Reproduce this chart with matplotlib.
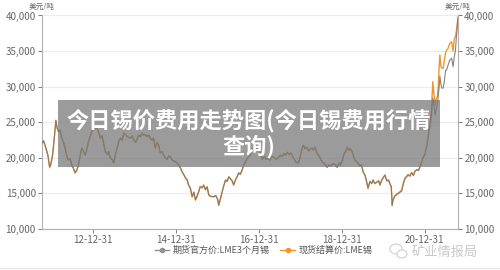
import matplotlib
matplotlib.use("Agg")
import matplotlib.pyplot as plt
import matplotlib.dates as mdates
from matplotlib.patches import Rectangle, Ellipse
from matplotlib.lines import Line2D
import pandas as pd

plt.rcParams['font.family'] = ['Noto Sans CJK SC', 'DejaVu Sans']

# ---- data (USD / tonne) ----
dates = [
    "2011-10-14", "2011-10-28", "2011-11-10", "2011-11-24", "2011-12-05", "2011-12-20", "2011-12-30",
    "2012-01-15", "2012-01-30", "2012-02-13", "2012-02-24", "2012-03-07", "2012-03-20", "2012-04-05",
    "2012-04-20", "2012-05-04", "2012-05-18", "2012-06-02", "2012-06-18", "2012-07-01", "2012-07-15",
    "2012-07-31", "2012-08-15", "2012-08-29", "2012-09-12", "2012-09-27", "2012-10-12", "2012-10-27",
    "2012-11-10", "2012-11-25", "2012-12-15", "2013-01-09", "2013-01-25", "2013-02-07", "2013-02-22",
    "2013-03-10", "2013-03-25", "2013-04-10", "2013-04-22", "2013-05-10", "2013-05-22", "2013-06-05",
    "2013-06-20", "2013-07-06", "2013-07-20", "2013-08-05", "2013-08-20", "2013-09-03", "2013-09-18",
    "2013-10-02", "2013-10-16", "2013-11-01", "2013-11-15", "2013-11-30", "2013-12-15", "2013-12-29",
    "2014-01-15", "2014-02-10", "2014-02-25", "2014-03-11", "2014-03-25", "2014-04-10", "2014-04-24",
    "2014-05-10", "2014-05-22", "2014-06-07", "2014-06-20", "2014-07-06", "2014-07-20", "2014-08-05",
    "2014-08-19", "2014-09-05", "2014-09-20", "2014-10-02", "2014-10-18", "2014-11-01", "2014-11-15",
    "2014-12-01", "2014-12-15", "2014-12-30", "2015-01-15", "2015-01-28", "2015-02-12", "2015-02-27",
    "2015-03-15", "2015-03-28", "2015-04-12", "2015-04-25", "2015-05-10", "2015-05-26", "2015-06-10",
    "2015-06-24", "2015-07-08", "2015-07-23", "2015-08-05", "2015-08-22", "2015-09-05", "2015-09-20",
    "2015-10-05", "2015-10-19", "2015-11-05", "2015-12-02", "2015-12-20", "2016-01-05", "2016-01-15",
    "2016-01-28", "2016-02-14", "2016-02-28", "2016-03-14", "2016-03-28", "2016-04-12", "2016-04-25",
    "2016-05-11", "2016-05-25", "2016-06-09", "2016-06-22", "2016-07-08", "2016-07-22", "2016-08-07",
    "2016-08-22", "2016-09-05", "2016-09-20", "2016-10-05", "2016-10-19", "2016-11-03", "2016-11-17",
    "2016-12-05", "2016-12-20", "2017-01-15", "2017-02-01", "2017-02-20", "2017-03-05", "2017-03-25",
    "2017-04-10", "2017-04-25", "2017-05-12", "2017-06-01", "2017-06-20", "2017-07-10", "2017-07-25",
    "2017-08-10", "2017-08-25", "2017-09-08", "2017-09-25", "2017-10-10", "2017-10-22", "2017-11-08",
    "2017-11-25", "2017-12-14", "2017-12-28", "2018-01-12", "2018-01-27", "2018-02-12", "2018-02-28",
    "2018-03-15", "2018-03-28", "2018-04-12", "2018-04-25", "2018-05-11", "2018-05-25", "2018-06-10",
    "2018-06-24", "2018-07-10", "2018-07-25", "2018-08-10", "2018-08-25", "2018-09-10", "2018-09-25",
    "2018-10-10", "2018-10-25", "2018-11-05", "2018-11-21", "2018-12-05", "2018-12-18", "2019-01-05",
    "2019-01-20", "2019-02-05", "2019-02-17", "2019-03-01", "2019-03-14", "2019-03-28", "2019-04-12",
    "2019-04-26", "2019-05-10", "2019-05-22", "2019-06-08", "2019-06-22", "2019-07-08", "2019-07-23",
    "2019-08-05", "2019-08-19", "2019-09-05", "2019-09-20", "2019-10-02", "2019-10-18", "2019-11-05",
    "2019-11-20", "2019-12-02", "2019-12-15", "2020-01-02", "2020-01-15", "2020-01-30", "2020-02-15",
    "2020-02-27", "2020-03-10", "2020-03-19", "2020-03-24", "2020-04-10", "2020-04-28", "2020-05-15",
    "2020-05-30", "2020-06-10", "2020-06-25", "2020-07-10", "2020-07-23", "2020-08-05", "2020-08-20",
    "2020-09-05", "2020-09-21", "2020-10-05", "2020-10-22", "2020-11-05", "2020-11-17", "2020-12-01",
    "2020-12-15", "2020-12-31", "2021-01-15", "2021-01-29", "2021-02-05", "2021-02-13", "2021-02-25",
    "2021-03-05", "2021-03-11", "2021-03-20", "2021-03-31", "2021-04-10", "2021-04-20", "2021-04-28",
    "2021-05-06", "2021-05-12", "2021-05-19", "2021-05-28", "2021-06-10", "2021-06-20", "2021-07-01",
    "2021-07-09", "2021-07-23", "2021-08-05", "2021-08-23", "2021-09-05", "2021-09-15", "2021-09-25",
    "2021-10-04", "2021-10-12", "2021-10-18",
]

lme_3m = [
    22050, 22400, 21800, 21000, 20400, 18750, 19100,
    20400, 22800, 25300, 24200, 23700, 23900, 22800,
    22200, 21400, 20300, 19700, 19900, 19000, 18600,
    17900, 18300, 19000, 20200, 21400, 21000, 20400,
    21100, 22270, 23200, 24400, 24100, 24300, 23600,
    22800, 23100, 21800, 20900, 20500, 20900, 20000,
    19800, 19300, 20500, 21400, 22400, 22800, 22500,
    23500, 23300, 23000, 22900, 22800, 23100, 22500,
    22200, 23200, 23000, 23500, 23200, 23300, 23000,
    23200, 22800, 22500, 22800, 21400, 22200, 21800,
    20700, 20900, 20300, 20000, 19800, 20300, 20150,
    19700, 19600, 19450, 19300, 19000, 18600, 18050,
    17600, 17200, 16900, 16200, 15750, 14550, 15200,
    14100, 14600, 15250, 15900, 15750, 16100, 15500,
    15900, 14800, 14600, 14550, 14700, 14200, 13370,
    14200, 15250, 16100, 16900, 16700, 17350, 17100,
    16800, 16200, 16900, 17300, 17900, 17700, 18300,
    19000, 19450, 19900, 20200, 20400, 21300, 20900,
    21300, 21000, 20800, 19800, 20200, 19800, 19900,
    19700, 20200, 20100, 19800, 20000, 20400, 20200,
    20600, 20400, 20800, 20500, 20700, 20300, 19800,
    19400, 19300, 20000, 21100, 21800, 21300, 21500,
    21000, 21200, 21400, 21100, 21500, 20700, 20400,
    20000, 19500, 19300, 19000, 18700, 19000, 18900,
    19100, 19200, 19000, 18700, 19300, 19000, 19600,
    20600, 20900, 21500, 21100, 21300, 21000, 20400,
    19700, 19500, 19300, 18900, 19000, 18000, 17600,
    16800, 15750, 16700, 16400, 16900, 16400, 16600,
    16800, 16200, 16800, 17300, 17600, 16800, 16900,
    16400, 16000, 13370, 14000, 14600, 14800, 15000,
    15200, 15300, 16400, 17100, 17300, 17600, 17400,
    17900, 17500, 18100, 18300, 18200, 18700, 19300,
    20000, 20400, 21500, 22800, 23700, 24400, 25600,
    27300, 28400, 27600, 26000, 26900, 27400, 28800,
    30000, 31500, 30500, 29800, 29800, 30800, 32300,
    32300, 33000, 33700, 34000, 32800, 34200, 35000,
    37000, 38400, 39600,
]

lme_spot = [
    22000, 22350, 21700, 20900, 20300, 18600, 19000,
    20350, 22750, 25250, 24150, 23650, 23850, 22750,
    22150, 21350, 20250, 19650, 19850, 18950, 18550,
    17850, 18250, 18950, 20150, 21350, 20950, 20350,
    21050, 22200, 23150, 24350, 24050, 24250, 23550,
    22750, 23050, 21750, 20850, 20450, 20850, 19950,
    19750, 19250, 20450, 21350, 22350, 22750, 22450,
    23450, 23250, 22950, 22850, 22750, 23050, 22450,
    22150, 23150, 22950, 23450, 23150, 23250, 22950,
    23150, 22750, 22450, 22750, 21350, 22150, 21750,
    20650, 20850, 20250, 19950, 19750, 20250, 20100,
    19650, 19550, 19400, 19250, 18950, 18550, 18000,
    17550, 17150, 16850, 16150, 15700, 14500, 15150,
    14050, 14550, 15300, 16000, 15850, 16200, 15550,
    15950, 14750, 14550, 14500, 14650, 14150, 13300,
    14150, 15200, 16050, 16850, 16650, 17300, 17050,
    16750, 16150, 16850, 17250, 17850, 17650, 18250,
    18950, 19400, 19850, 20150, 20350, 21250, 20850,
    21250, 20950, 20750, 19750, 20150, 19750, 19850,
    19650, 20150, 20050, 19750, 19950, 20350, 20150,
    20550, 20350, 20750, 20450, 20650, 20250, 19750,
    19350, 19250, 19950, 21050, 21750, 21250, 21450,
    20950, 21150, 21350, 21050, 21450, 20650, 20350,
    19950, 19450, 19250, 18950, 18650, 18950, 18850,
    19050, 19150, 18950, 18650, 19250, 18950, 19550,
    20550, 20850, 21450, 21050, 21250, 20950, 20350,
    19650, 19450, 19250, 18850, 18950, 17950, 17550,
    16750, 15700, 16650, 16350, 16850, 16350, 16550,
    16750, 16150, 16750, 17250, 17550, 16750, 16850,
    16350, 15950, 13300, 13950, 14650, 14950, 15100,
    15300, 15500, 16500, 17200, 17400, 17650, 17450,
    17950, 17550, 18150, 18350, 18250, 18750, 19350,
    20100, 20600, 21700, 23000, 24000, 24800, 26500,
    28900, 30700, 29000, 27400, 28300, 28600, 30200,
    33000, 34450, 33000, 32600, 32600, 33700, 34800,
    35100, 35400, 36000, 36300, 35000, 36700, 37000,
    37800, 39000, 39800,
]

y_ticks = [10000, 15000, 20000, 25000, 30000, 35000, 40000]
x_ticks = ["2012-12-31", "2014-12-31", "2016-12-31", "2018-12-31", "2020-12-31"]
series_names = ["期货官方价:LME3个月锡", "现货结算价:LME锡"]
title = "今日锡价费用走势图(今日锡费用行情\n查询)"

gray = "#8f8f8f"
orange = "#f0952f"
tick_color = "#666666"

t = pd.to_datetime(dates)

fig = plt.figure(figsize=(5, 2.7), dpi=100)
ax = fig.add_axes([0.084, 0.152, 0.832, 0.7906])

ax.plot(t, lme_spot, color=orange, lw=1.0, zorder=3)
ax.plot(t, lme_3m, color="#7d766e", lw=0.8, alpha=0.9, zorder=4)

ax.set_xlim(t[0], t[-1])
ax.set_ylim(10000, 40000)
ax.set_yticks(y_ticks)
ax.yaxis.set_major_formatter(matplotlib.ticker.FuncFormatter(lambda v, p: f"{int(v):,}"))
ax.set_xticks(pd.to_datetime(x_ticks))
ax.xaxis.set_major_formatter(mdates.DateFormatter("%y-%m-%d"))
ax.grid(axis="y", color="#ececec", lw=0.8, zorder=0)

ax.tick_params(axis="both", labelsize=7, colors=tick_color, length=3, width=0.6, pad=1.5)
ax.tick_params(axis="y", right=True, labelright=True)
for side in ["left", "right", "bottom"]:
    ax.spines[side].set_color("#b0b0b0")
    ax.spines[side].set_linewidth(0.8)
ax.spines["top"].set_visible(False)

# unit labels above both axes
fig.text(0.084, 0.974, "美元/吨", fontsize=5.5, color=tick_color, ha="center", va="center")
fig.text(0.916, 0.974, "美元/吨", fontsize=5.5, color=tick_color, ha="center", va="center")

# legend
handles = [Line2D([0], [0], color=gray, lw=1, marker="o", markersize=3),
           Line2D([0], [0], color=orange, lw=1, marker="o", markersize=3)]
fig.legend(handles, series_names, loc="center", bbox_to_anchor=(0.527, 0.073), ncol=2,
           frameon=False, fontsize=6.5, labelcolor="#555555", handlelength=1.6,
           handletextpad=0.4, columnspacing=1.2)

# title overlay box
fig.patches.append(Rectangle((58 / 500, 1 - 167 / 270), 382 / 500, 67 / 270,
                             transform=fig.transFigure, facecolor="#7a7a7a",
                             alpha=0.75, edgecolor="none", zorder=5))
fig.text(0.497, 1 - 133.5 / 270, title, fontsize=16, fontweight="bold", color="white",
         ha="center", va="center", linespacing=1.15, zorder=6)

# watermark
fig.patches.append(Ellipse((396 / 500, 1 - 249 / 270), 12 / 500, 10 / 270, transform=fig.transFigure,
                           facecolor="none", edgecolor="#cfcfcf", lw=0.8))
fig.patches.append(Ellipse((402 / 500, 1 - 254 / 270), 10 / 500, 8 / 270, transform=fig.transFigure,
                           facecolor="white", edgecolor="#cfcfcf", lw=0.8))
fig.text(0.824, 0.066, "矿业情报局", fontsize=9.5, color="#c9c9c9", ha="left", va="center")

fig.add_artist(Line2D([0, 1], [1 - 268 / 270, 1 - 268 / 270], transform=fig.transFigure,
                      color="#e6e6e6", lw=0.8))

fig.savefig("out.png", dpi=100)
